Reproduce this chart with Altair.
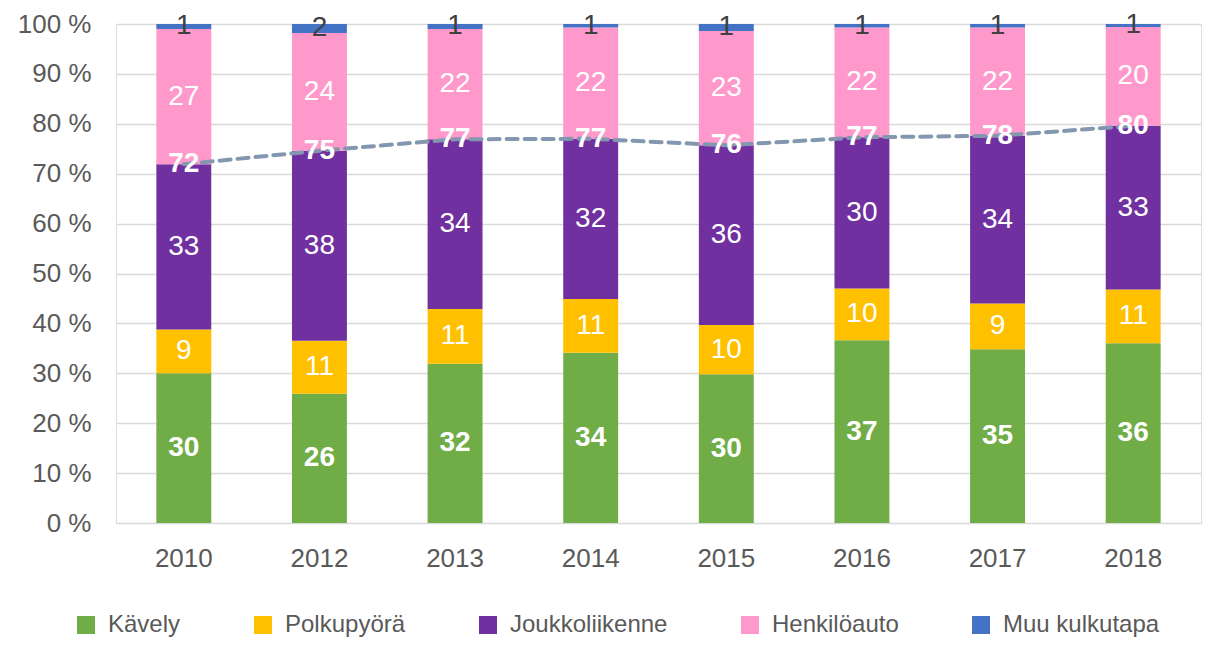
import altair as alt
import pandas as pd

years = ["2010", "2012", "2013", "2014", "2015", "2016", "2017", "2018"]
categories = ["Kävely", "Polkupyörä", "Joukkoliikenne", "Henkilöauto", "Muu kulkutapa"]
colors = ["#70AD47", "#FFC000", "#7030A0", "#FF99CC", "#4472C4"]

kavely = [30.0, 25.9, 31.9, 34.1, 29.8, 36.6, 34.8, 36.0]
polkupyora = [8.8, 10.6, 11.0, 10.8, 9.9, 10.4, 9.2, 10.8]
joukkoliikenne = [33.1, 38.1, 34.0, 32.1, 36.0, 30.3, 33.6, 32.8]
henkiloauto = [27.1, 23.6, 22.1, 22.3, 22.9, 22.0, 21.7, 19.8]
muu = [1.0, 1.8, 1.0, 0.7, 1.4, 0.7, 0.7, 0.6]

series = [kavely, polkupyora, joukkoliikenne, henkiloauto, muu]

rows = []
for i, y in enumerate(years):
    cum = 0.0
    for k, (cat, vals) in enumerate(zip(categories, series)):
        v = vals[i]
        rows.append({"year": y, "cat": cat, "ord": k, "value": v,
                     "mid": cum + v / 2.0})
        cum += v
df = pd.DataFrame(rows)

tot = pd.DataFrame({
    "year": years,
    "total": [kavely[i] + polkupyora[i] + joukkoliikenne[i] for i in range(len(years))],
})

FONT = "Liberation Sans"

x_enc = alt.X("year:N", sort=years, title=None,
              scale=alt.Scale(paddingInner=0.595, paddingOuter=0.2975),
              axis=alt.Axis(labelAngle=0, labelFontSize=26, labelColor="#595959",
                            labelFont=FONT, ticks=False, tickSize=0, domain=False,
                            labelPadding=22, grid=False))
y_scale = alt.Scale(domain=[0, 100], nice=False)

bars = alt.Chart(df).mark_bar().encode(
    x=x_enc,
    y=alt.Y("value:Q", stack="zero", scale=y_scale, title=None,
            axis=alt.Axis(values=list(range(0, 101, 10)),
                          labelExpr="datum.value + ' %'",
                          labelFontSize=26, labelColor="#595959", labelFont=FONT,
                          ticks=False, tickSize=0, domain=False, labelPadding=25,
                          grid=True, gridColor="#D9D9D9", gridWidth=1.5)),
    color=alt.Color("cat:N", sort=categories,
                    scale=alt.Scale(domain=categories, range=colors),
                    legend=alt.Legend(title=None, orient="none", direction="horizontal",
                                      legendX=-42, legendY=589,
                                      symbolType="square", symbolSize=324,
                                      symbolStrokeWidth=0, labelFontSize=24,
                                      labelFont=FONT, labelColor="#595959",
                                      labelLimit=0,
                                      labelOffset=10, columnPadding=70, padding=0)),
    order=alt.Order("ord:Q"),
)

text_base = alt.Chart(df).encode(
    x=alt.X("year:N", sort=years),
    y=alt.Y("mid:Q", scale=y_scale),
    text=alt.Text("value:Q", format=".0f"),
)

lbl_bold = text_base.transform_filter(alt.datum.cat == "Kävely").mark_text(
    font=FONT, fontSize=28, fontWeight="bold", color="white", baseline="middle")
lbl_white = text_base.transform_filter(
    (alt.datum.cat != "Kävely") & (alt.datum.cat != "Muu kulkutapa")
).mark_text(font=FONT, fontSize=28, color="white", baseline="middle")
lbl_muu = text_base.transform_filter(alt.datum.cat == "Muu kulkutapa").mark_text(
    font=FONT, fontSize=28, color="#404040", baseline="middle")

line = alt.Chart(tot).mark_line(
    color="#8497B0", strokeWidth=4, strokeDash=[11, 7], strokeCap="round"
).encode(
    x=alt.X("year:N", sort=years),
    y=alt.Y("total:Q", scale=y_scale),
)

tot_lbl = alt.Chart(tot).mark_text(
    font=FONT, fontSize=28, fontWeight="bold", color="white", baseline="middle"
).encode(
    x=alt.X("year:N", sort=years),
    y=alt.Y("total:Q", scale=y_scale),
    text=alt.Text("total:Q", format=".0f"),
)

chart = alt.layer(bars, lbl_bold, lbl_white, lbl_muu, line, tot_lbl).properties(
    width=1085, height=499,
    autosize=alt.AutoSizeParams(type="none"),
    padding={"left": 108, "top": 16, "right": 5, "bottom": 115},
).configure_view(stroke=None).configure(background="white")

chart.save("out.html", embed_options={"renderer": "svg", "actions": False})
